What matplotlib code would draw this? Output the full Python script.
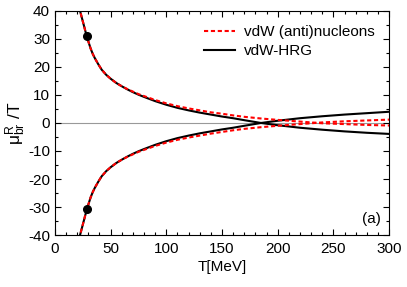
import matplotlib
matplotlib.use("Agg")
import matplotlib.pyplot as plt
from matplotlib.ticker import MultipleLocator

plt.rcParams['font.family'] = ['Liberation Sans', 'DejaVu Sans']
plt.rcParams['mathtext.fontset'] = 'custom'
plt.rcParams['mathtext.rm'] = 'Liberation Sans'
plt.rcParams['mathtext.it'] = 'Liberation Sans'

# temperatures (MeV) at which the curves were read
T = [21.5, 23, 25, 28.5, 30, 32, 34, 36, 39, 42, 46, 50, 55, 60, 65, 70, 75, 80,
     90, 100, 110, 120, 130, 140, 150, 160, 170, 185, 200, 220, 240, 260, 280, 300]

# vdW-HRG, branch starting positive / negative
hrg_up = [41.5, 39.3, 36.3, 31.0, 29.1, 26.6, 24.6, 23.0, 20.9, 19.0, 17.2, 15.8, 14.3, 13.1,
          12.0, 11.0, 10.1, 9.3, 7.8, 6.5, 5.4, 4.5, 3.7, 3.0, 2.3, 1.7, 1.0, 0.0,
          -0.8, -1.7, -2.4, -3.0, -3.5, -3.9]
hrg_dn = [-41.5, -39.3, -36.3, -31.0, -29.1, -26.6, -24.6, -23.0, -20.9, -19.0, -17.2, -15.8, -14.3, -13.1,
          -12.0, -11.0, -10.1, -9.3, -7.8, -6.5, -5.4, -4.5, -3.7, -3.0, -2.3, -1.7, -1.0, 0.0,
          0.8, 1.7, 2.4, 3.0, 3.5, 4.0]

# vdW (anti)nucleons
nuc_up = [41.5, 39.3, 36.3, 31.0, 29.1, 26.6, 24.6, 23.0, 20.9, 19.0, 17.2, 15.8, 14.3, 13.1,
          12.1, 11.2, 10.3, 9.6, 8.2, 7.0, 6.0, 5.2, 4.5, 3.8, 3.3, 2.7, 2.2, 1.6,
          1.1, 0.5, -0.1, -0.4, -0.7, -0.9]
nuc_dn = [-41.5, -39.3, -36.3, -31.0, -29.1, -26.6, -24.6, -23.0, -20.9, -19.0, -17.2, -15.8, -14.3, -13.1,
          -12.1, -11.2, -10.3, -9.6, -8.2, -7.0, -6.0, -5.2, -4.5, -3.8, -3.2, -2.6, -2.1, -1.5,
          -1.0, -0.4, 0.2, 0.6, 0.9, 1.2]

# marked points
dot_T = [28.5, 28.5]
dot_mu = [31, -30.8]

fig = plt.figure(figsize=(4.07, 2.87), dpi=100)
ax = fig.add_axes([0.135, 0.181, 0.821, 0.781])

ax.axhline(0, color='#999999', lw=0.8, zorder=1)
ax.plot(T, hrg_up, color='black', lw=1.5, label='vdW-HRG', zorder=2)
ax.plot(T, hrg_dn, color='black', lw=1.5, zorder=2)
ax.plot(T, nuc_up, color='red', lw=1.5, ls=(0, (2.0, 1.3)), label='vdW (anti)nucleons', zorder=3)
ax.plot(T, nuc_dn, color='red', lw=1.5, ls=(0, (2.0, 1.3)), zorder=3)
ax.plot(dot_T, dot_mu, 'o', color='black', ms=5.5, zorder=4)

ax.set_xlim(0, 300)
ax.set_ylim(-40, 40)
ax.xaxis.set_major_locator(MultipleLocator(50))
ax.xaxis.set_minor_locator(MultipleLocator(10))
ax.yaxis.set_major_locator(MultipleLocator(10))
ax.yaxis.set_minor_locator(MultipleLocator(5))
ax.tick_params(which='both', direction='in', top=True, right=True, labelsize=11)
ax.tick_params(which='major', length=4, width=0.8)
ax.tick_params(which='minor', length=2, width=0.8)
ax.tick_params(axis='x', which='major', pad=5)
ax.set_yticks([-40, -30, -20, -10, 0, 10, 20, 30, 40])
ax.set_yticklabels(['-40', '-30', '-20', '-10', '0', '10', '20', '30', '40'])

ax.set_xlabel('T[MeV]', fontsize=11, labelpad=3)
ax.set_ylabel(r'$\mathregular{\mu^R_{br}}$ /T', fontsize=12.5, labelpad=0)

h, l = ax.get_legend_handles_labels()
ax.legend(h[::-1], l[::-1], loc='upper right', frameon=False, fontsize=11,
          handlelength=2.0, handletextpad=0.6, borderaxespad=0.55, labelspacing=0.3)
ax.text(0.975, 0.04, '(a)', transform=ax.transAxes, ha='right', va='bottom', fontsize=11)

fig.savefig('out.png', dpi=100)
